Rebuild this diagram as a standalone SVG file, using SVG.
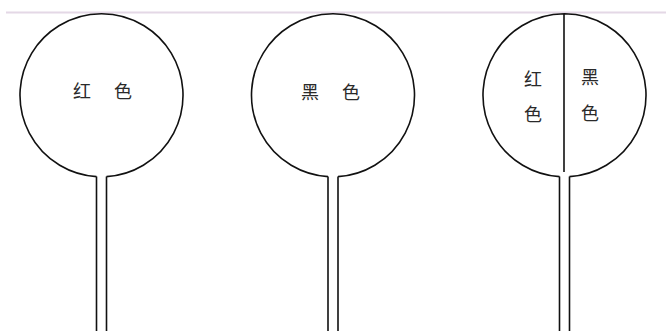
<svg xmlns="http://www.w3.org/2000/svg" width="666" height="331" viewBox="0 0 666 331">
<style>
.o{fill:none;stroke:#111;stroke-width:1.6}
.t{font-family:"Noto Sans CJK SC","Noto Sans",sans-serif;font-size:18px;fill:#2a2a2a;text-anchor:middle;dominant-baseline:central}
</style>
<rect width="666" height="331" fill="#fff"/>
<line x1="6" y1="12.5" x2="666" y2="12.5" stroke="#e4d8e6" stroke-width="2"/>
<g id="sign-red">
<path class="o" d="M97 176.6 A81.5 81.5 0 1 1 107 176.6 M97 176.6 V331 M107 176.6 V331" transform="translate(-0.5,0)"/>
<text class="t" x="82" y="90">红</text>
<text class="t" x="123" y="90">色</text>
</g>
<g id="sign-black">
<path class="o" d="M328 176.6 A81.5 81.5 0 1 1 338 176.6 M328 176.6 V331 M338 176.6 V331"/>
<text class="t" x="310" y="91">黑</text>
<text class="t" x="351" y="91">色</text>
</g>
<g id="sign-split">
<path class="o" d="M559 176.6 A81.5 81.5 0 1 1 569 176.6 M559 176.6 V331 M569 176.6 V331 M563.5 14 V172" transform="translate(0.5,0)"/>
<text class="t" x="533" y="78">红</text>
<text class="t" x="533" y="113">色</text>
<text class="t" x="590" y="76">黑</text>
<text class="t" x="590" y="112">色</text>
</g>
</svg>
